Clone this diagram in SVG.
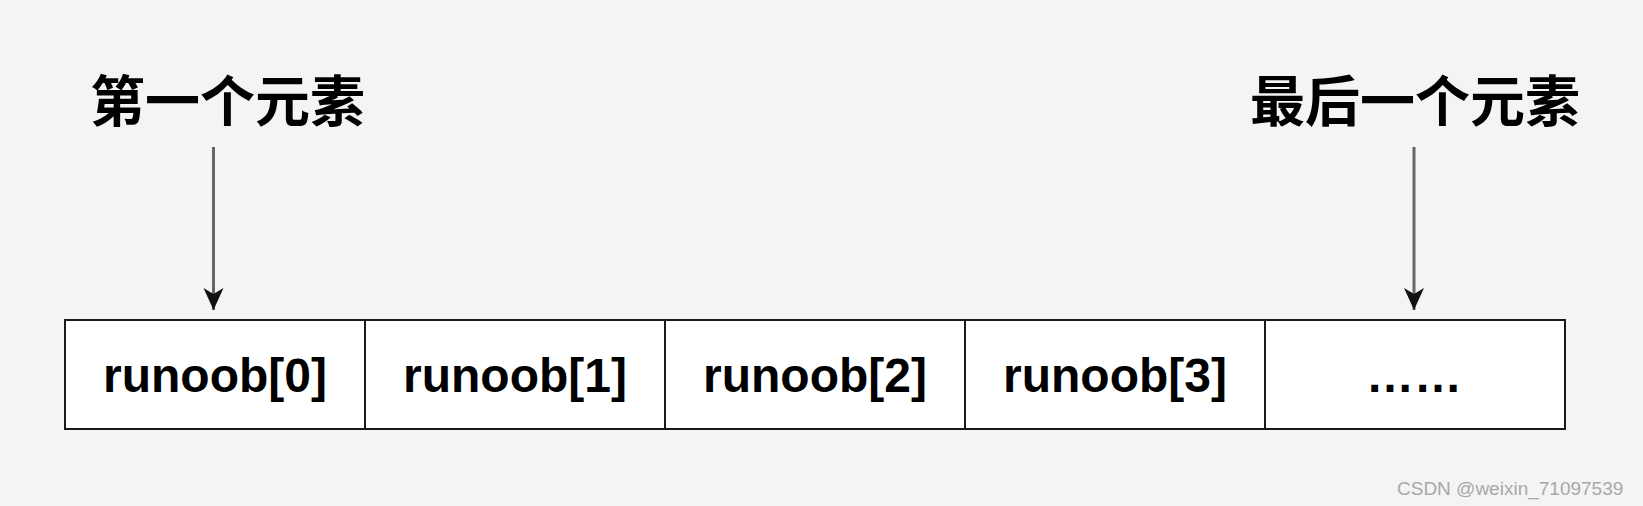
<svg xmlns="http://www.w3.org/2000/svg" width="1643" height="506" viewBox="0 0 1643 506">
  <defs>
    <marker id="arrow" markerUnits="userSpaceOnUse" markerWidth="24" markerHeight="22" refX="22" refY="11" orient="auto" viewBox="0 0 24 22">
      <path d="M0,1 L6,11 L0,21 L22,11 Z" fill="#111"/>
    </marker>
  </defs>
  <style>
    .cell { fill: #ffffff; stroke: #1a1a1a; stroke-width: 2; }
    .cellText { font-family: "Liberation Sans", Arial, sans-serif; font-weight: bold; font-size: 48px; fill: #000; text-anchor: middle; }
    .label { font-family: "Noto Sans CJK SC", "Noto Sans CJK JP", sans-serif; font-weight: bold; font-size: 55px; fill: #000; }
    .conn { stroke: #666; stroke-width: 3; fill: none; }
    .wm { font-family: "Liberation Sans", Arial, sans-serif; font-size: 19px; fill: #a8a8a8; }
  </style>
  <rect width="1643" height="506" fill="#f4f4f4"/>

  <g id="label-first">
    <text class="label" x="90" y="121">第一个元素</text>
  </g>
  <g id="label-last">
    <text class="label" x="1250" y="121">最后一个元素</text>
  </g>

  <g id="cell-0">
    <rect class="cell" x="65" y="320" width="300" height="109"/>
    <text class="cellText" x="215" y="392">runoob[0]</text>
  </g>
  <g id="cell-1">
    <rect class="cell" x="365" y="320" width="300" height="109"/>
    <text class="cellText" x="515" y="392">runoob[1]</text>
  </g>
  <g id="cell-2">
    <rect class="cell" x="665" y="320" width="300" height="109"/>
    <text class="cellText" x="815" y="392">runoob[2]</text>
  </g>
  <g id="cell-3">
    <rect class="cell" x="965" y="320" width="300" height="109"/>
    <text class="cellText" x="1115" y="392">runoob[3]</text>
  </g>
  <g id="cell-4">
    <rect class="cell" x="1265" y="320" width="300" height="109"/>
    <text class="cellText" x="1414" y="392">……</text>
  </g>

  <g id="connectors">
    <line class="conn" x1="213.5" y1="147" x2="213.5" y2="310" marker-end="url(#arrow)"/>
    <line class="conn" x1="1414" y1="147" x2="1414" y2="310" marker-end="url(#arrow)"/>
  </g>

  <text class="wm" x="1397" y="495">CSDN @weixin_71097539</text>
</svg>
